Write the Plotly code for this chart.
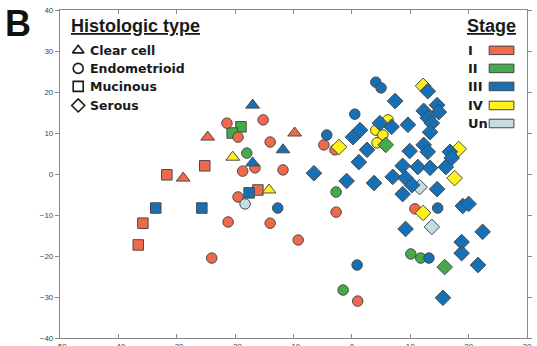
import plotly.graph_objects as go

# ---- data (x, y, stage) per histologic type ----
tri_x = [-24.7, -28.9, -9.8, -20.4, -14.2, -17.0, -11.8, -17.0]
tri_y = [9.0, -1.0, 10.0, 4.1, -3.9, 16.8, 5.9, 2.7]
tri_s = ["I", "I", "I", "IV", "IV", "III", "III", "III"]

sq_x = [-25.2, -31.7, -35.8, -36.6, -16.1, -33.6, -25.7, -17.6, -19.0, -20.5]
sq_y = [2.0, -0.2, -12.0, -17.3, -3.9, -8.3, -8.3, -4.6, 11.5, 10.0]
sq_s = ["I", "I", "I", "I", "I", "III", "III", "III", "II", "II"]

circ_x = [-21.4, -15.2, -19.5, -14.0, -16.6, -18.7, -11.8, -19.5, -21.2, -14.0,
          -24.0, -9.2, -4.8, -2.9, -2.7, 1.0, 10.8,
          -18.0, -2.7, -1.5, 10.1, 11.8,
          -18.3,
          -12.7, -4.3, 0.9, 0.5, 4.1, 5.0, 14.7, 13.2,
          4.1, 5.3, 4.3, 6.2]
circ_y = [12.4, 13.2, 9.0, 7.8, 1.5, 0.7, 1.0, -5.6, -11.7, -12.0,
          -20.5, -16.1, 7.1, 5.9, -9.3, -31.0, -8.5,
          5.1, -4.4, -28.3, -19.5, -20.5,
          -7.3,
          -8.3, 9.5, -22.2, 14.6, 22.4, 21.0, -8.3, -20.5,
          10.7, 9.5, 7.6, 13.2]
circ_s = ["I"] * 17 + ["II"] * 5 + ["Un"] + ["III"] * 8 + ["IV"] * 4

dia_x = [-2.2, 12.2, 18.3, 17.6, 12.2,
         5.8, 15.9,
         11.6, 13.7,
         -6.5, -0.9, 3.8, 1.2, 2.6, 0.2, 1.4, 7.4, 13.0, 14.6,
         14.9, 12.3, 13.0, 13.7, 13.4, 6.8, 4.8, 9.6, 9.9, 12.3,
         13.0, 16.8, 17.1, 16.1, 8.7, 11.3, 13.4, 7.0, 9.2, 10.3,
         8.7, 14.6, 19.0, 20.0, 9.2, 22.4, 18.8, 18.8, 21.6, 15.6]
dia_y = [6.6, 21.5, 6.1, -1.0, -9.5,
         7.1, -22.7,
         -3.2, -12.9,
         0.2, -1.7, -2.2, 2.9, 5.9, 9.0, 10.7, 17.8, 20.2, 16.8,
         15.1, 15.4, 13.7, 12.4, 10.2, 11.5, 12.4, 12.0, 5.6, 7.1,
         5.4, 5.4, 3.9, 1.7, 2.0, 1.7, 1.5, -0.7, -1.0, -2.7,
         -4.9, -3.7, -7.8, -7.3, -13.4, -14.1, -16.6, -19.3, -22.2, -30.2]
dia_s = ["IV"] * 5 + ["II"] * 2 + ["Un"] * 2 + ["III"] * 40

types = ["Clear cell", "Endometrioid", "Mucinous", "Serous"]
stages = ["I", "II", "III", "IV", "Un"]
x_ticks = [-50, -40, -30, -20, -10, 0, 10, 20, 30]
y_ticks = [-40, -30, -20, -10, 0, 10, 20, 30, 40]

stage_color = {"I": "#F0694A", "II": "#45AA4C", "III": "#1670B6",
               "IV": "#FFF11A", "Un": "#C4DCE2"}
type_symbol = {"Clear cell": "triangle-up", "Endometrioid": "circle",
               "Mucinous": "square", "Serous": "diamond"}
type_size = {"Clear cell": 12, "Endometrioid": 10.5, "Mucinous": 10.5, "Serous": 12}

groups = [("Mucinous", sq_x, sq_y, sq_s), ("Endometrioid", circ_x, circ_y, circ_s),
          ("Clear cell", tri_x, tri_y, tri_s), ("Serous", dia_x, dia_y, dia_s)]

fig = go.Figure()
for name, xs, ys, ss in groups:
    fig.add_trace(go.Scatter(
        x=xs, y=ys, mode="markers", name=name, showlegend=False,
        marker=dict(symbol=type_symbol[name], size=type_size[name],
                    color=[stage_color[s] for s in ss],
                    line=dict(color="#4a4a4a", width=1))))

# ---- histologic type legend (overlay axes in 0..1 plot units) ----
leg_y = [0.877, 0.822, 0.767, 0.709]
for i, t in enumerate(types):
    fig.add_trace(go.Scatter(
        x=[0.039], y=[leg_y[i]], xaxis="x2", yaxis="y2", mode="markers",
        showlegend=False, hoverinfo="skip",
        marker=dict(symbol=type_symbol[t] + "-open", size=10,
                    color="#1a1a1a", line=dict(width=1.6))))
    fig.add_annotation(x=0.059, y=leg_y[i], xref="paper", yref="paper",
                       text="<b>" + t + "</b>", showarrow=False,
                       xanchor="left", yanchor="middle",
                       font=dict(size=12.5, color="#1a1a1a", family="DejaVu Sans"))

fig.add_annotation(x=0.019, y=0.95, xref="paper", yref="paper",
                   text="<b><u>Histologic type</u></b>", showarrow=False,
                   xanchor="left", yanchor="middle",
                   font=dict(size=18, color="#1a1a1a", family="Liberation Sans"))

# ---- stage legend ----
fig.add_annotation(x=0.981, y=0.95, xref="paper", yref="paper",
                   text="<b><u>Stage</u></b>", showarrow=False,
                   xanchor="right", yanchor="middle",
                   font=dict(size=18, color="#1a1a1a", family="Liberation Sans"))
st_y = [0.877, 0.822, 0.767, 0.709, 0.654]
for i, s in enumerate(stages):
    fig.add_annotation(x=0.870, y=st_y[i], xref="paper", yref="paper",
                       text="<b>" + s + "</b>", showarrow=False,
                       xanchor="left", yanchor="middle",
                       font=dict(size=13, color="#1a1a1a", family="DejaVu Sans"))
    fig.add_shape(type="rect", xref="paper", yref="paper",
                  x0=0.919, x1=0.972, y0=st_y[i] - 0.013, y1=st_y[i] + 0.013,
                  fillcolor=stage_color[s], line=dict(color="#444", width=1))

# ---- panel letter ----
fig.add_annotation(x=-0.122, y=1.027, xref="paper", yref="paper",
                   text="<b>B</b>", showarrow=False, xanchor="left", yanchor="top",
                   font=dict(size=36, color="#111", family="Liberation Sans"))

axis_common = dict(showgrid=False, zeroline=False, showline=True,
                   linecolor="#8a8a8a", linewidth=1.2, mirror="allticks",
                   ticklen=4, tickcolor="#8a8a8a", automargin=False,
                   tickfont=dict(size=8, color="#444", family="Liberation Sans"))

fig.update_layout(
    width=537, height=346,
    margin=dict(l=60, r=10, t=10, b=8),
    paper_bgcolor="white", plot_bgcolor="white",
    xaxis=dict(range=[-50, 30], tickvals=x_ticks, ticks="inside", **axis_common),
    yaxis=dict(range=[-40, 40], tickvals=y_ticks, ticks="outside", **axis_common),
    xaxis2=dict(range=[0, 1], overlaying="x", visible=False, fixedrange=True),
    yaxis2=dict(range=[0, 1], overlaying="y", visible=False, fixedrange=True),
)

fig.write_html("out.html", config={"displayModeBar": False},
               post_script="document.body.style.margin='0';")
